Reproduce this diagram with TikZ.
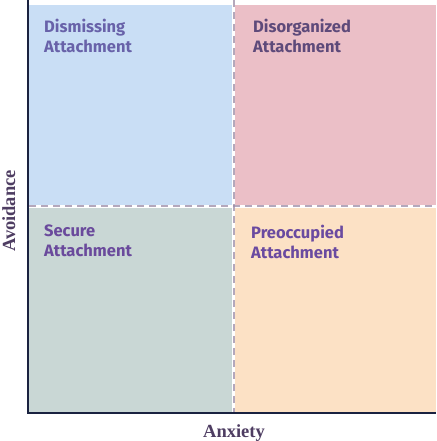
\documentclass[tikz,border=0pt]{standalone}
\usepackage{fontspec}
\setsansfont{Fira Sans}
\setmainfont{Liberation Serif}
\usepackage{xcolor}
\usetikzlibrary{positioning}

\definecolor{quadblue}{HTML}{C9DEF5}
\definecolor{quadpink}{HTML}{EBBFC7}
\definecolor{quadgreen}{HTML}{C9D7D5}
\definecolor{quadorange}{HTML}{FCE1C5}
\definecolor{axisnavy}{HTML}{1A2240}
\definecolor{axistext}{HTML}{4E3D62}
\definecolor{divider}{HTML}{9C8CA6}
\definecolor{txtdismiss}{HTML}{6862A9}
\definecolor{txtdisorg}{HTML}{5E4A7A}
\definecolor{txtsecure}{HTML}{6A4A9C}
\definecolor{txtpreocc}{HTML}{6A4AA0}

\begin{document}
\begin{tikzpicture}[
    x=1pt, y=1pt,
    quad/.style={rectangle, draw=none, inner sep=0pt, outer sep=0pt, anchor=north west},
    quadlabel/.style={font=\sffamily\bfseries\fontsize{16.5}{20}\selectfont, align=left, inner sep=0pt, anchor=north west},
    axislabel/.style={font=\rmfamily\bfseries\fontsize{18.5}{20}\selectfont, text=axistext, inner sep=0pt},
    axisline/.style={draw=axisnavy, line width=2.2pt},
    divline/.style={draw=divider, opacity=0.75, line width=2pt, dash pattern=on 7pt off 5pt}
]

\useasboundingbox[fill=white] (0,0) rectangle (436,441);

% Quadrants
\node[quad, fill=quadblue, minimum width=203.3pt, minimum height=200.5pt] (q_dismiss) at (29,436) {};
\node[quad, fill=quadpink, minimum width=201pt, minimum height=200.5pt] (q_disorg) at (235,436) {};
\node[quad, fill=quadgreen, minimum width=203.3pt, minimum height=203.5pt] (q_secure) at (29,232.5) {};
\node[quad, fill=quadorange, minimum width=201pt, minimum height=203.5pt] (q_preocc) at (235,232.5) {};

% Quadrant labels
\node[quadlabel, text=txtdismiss, below right=14pt and 15pt of q_dismiss.north west] (l_dismiss) {Dismissing\\Attachment};
\node[quadlabel, text=txtdisorg, below right=14pt and 18pt of q_disorg.north west] (l_disorg) {Disorganized\\Attachment};
\node[quadlabel, text=txtsecure, below right=16pt and 15pt of q_secure.north west] (l_secure) {Secure\\Attachment};
\node[quadlabel, text=txtpreocc, below right=16pt and 16pt of q_preocc.north west] (l_preocc) {Preoccupied\\Attachment};

% Dividers
\coordinate (div_top) at (234,441);
\coordinate (div_bot) at (234,29);
\coordinate (div_left) at (29,235.3);
\coordinate (div_right) at (436,235.3);
\draw[divline] (div_left) -- (div_right);
\draw[divline] (div_top) -- (div_bot);

% Axes
\coordinate (y_top) at (28,441);
\coordinate (x_end) at (436,28);
\draw[axisline] (y_top) |- (x_end);

% Axis labels
\node[axislabel, anchor=base] (x_label) at (234,4) {Anxiety};
\node[axislabel, anchor=base, rotate=90] (y_label) at (15,230) {Avoidance};

\end{tikzpicture}
\end{document}
